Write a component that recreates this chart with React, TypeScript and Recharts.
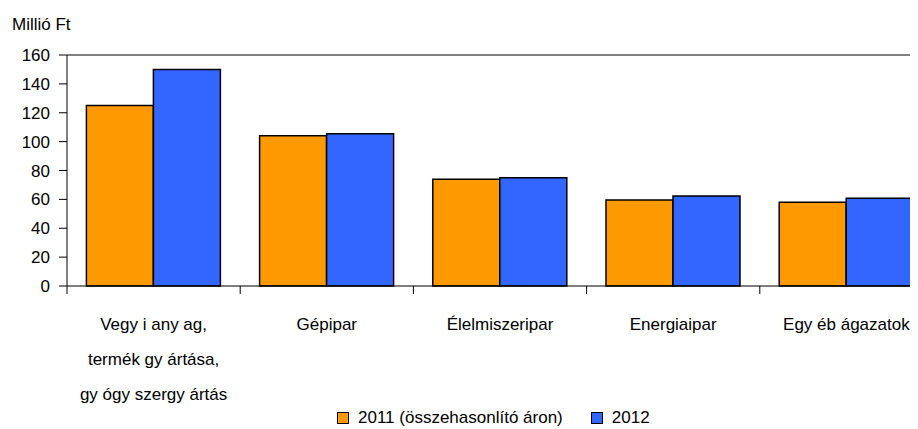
import React from 'react';
import { BarChart, Bar, XAxis, YAxis, ReferenceLine, Legend } from 'recharts';

const categories = [
  'Vegy i any ag,\ntermék gy ártása,\ngy ógy szergy ártás',
  'Gépipar',
  'Élelmiszeripar',
  'Energiaipar',
  'Egy éb ágazatok',
];
const values2011 = [125, 104, 74, 59.6, 58];
const values2012 = [150, 105.5, 75, 62.4, 60.7];
const yTicks = [0, 20, 40, 60, 80, 100, 120, 140, 160];

const seriesNames = ['2011 (összehasonlító áron)', '2012'];
const seriesColors = ['#FF9900', '#3366FF'];

const data = categories.map((name, i) => ({
  name,
  v2011: values2011[i],
  v2012: values2012[i],
}));

const FONT = "'Liberation Sans', Arial, sans-serif";
const CHART_W = 925;
const CHART_H = 421;
const BAND = (CHART_W - 59) / categories.length;

const CategoryTick = (props: any) => {
  const { x, y, payload } = props;
  const lines = String(payload.value).split('\n');
  return (
    <g>
      <line x1={x - BAND / 2} y1={y} x2={x - BAND / 2} y2={y + 8} stroke="#000" strokeWidth={1} />
      {lines.map((l, i) => (
        <text key={i} x={x} y={y + 44 + i * 35} textAnchor="middle" fontSize={17} fontFamily={FONT} fill="#000">
          {l}
        </text>
      ))}
    </g>
  );
};

const LegendContent = () => (
  <div style={{ display: 'flex', alignItems: 'center', fontFamily: FONT, fontSize: 17, color: '#000', lineHeight: '20px' }}>
    {seriesNames.map((n, i) => (
      <div key={n} style={{ display: 'flex', alignItems: 'center', marginRight: i === 0 ? 28 : 0 }}>
        <span style={{ display: 'inline-block', width: 10, height: 10, background: seriesColors[i], border: '1px solid #000', marginRight: 9 }} />
        <span>{n}</span>
      </div>
    ))}
  </div>
);

export default function App() {
  return (
    <div style={{ width: 910, height: CHART_H, overflow: 'hidden', position: 'relative' }}>
      <div style={{ position: 'absolute', left: 4, top: 7, fontFamily: FONT, fontSize: 17, color: '#000', whiteSpace: 'nowrap' }}>
        Millió Ft
      </div>
      <BarChart
        width={CHART_W}
        height={CHART_H}
        data={data}
        margin={{ top: 47, right: 0, bottom: 0, left: 0 }}
        barCategoryGap="11.2%"
        barGap={0}
      >
        <XAxis
          dataKey="name"
          interval={0}
          height={123}
          axisLine={{ stroke: '#000', strokeWidth: 1 }}
          tickLine={false}
          tickSize={0}
          tickMargin={0}
          tick={<CategoryTick />}
        />
        <YAxis
          width={59}
          domain={[0, 160]}
          ticks={yTicks}
          interval={0}
          axisLine={{ stroke: '#000', strokeWidth: 1 }}
          tickLine={{ stroke: '#000', strokeWidth: 1 }}
          tickSize={8}
          tickMargin={9}
          tick={{ fontSize: 17, fontFamily: FONT, fill: '#000' }}
        />
        <ReferenceLine y={160} stroke="#000" strokeWidth={1} />
        <Bar dataKey="v2011" name={seriesNames[0]} fill={seriesColors[0]} stroke="#000" strokeWidth={1.5} isAnimationActive={false} />
        <Bar dataKey="v2012" name={seriesNames[1]} fill={seriesColors[1]} stroke="#000" strokeWidth={1.5} isAnimationActive={false} />
        <Legend content={<LegendContent />} wrapperStyle={{ top: 400, left: 329, width: 600, height: 20 }} />
      </BarChart>
    </div>
  );
}
